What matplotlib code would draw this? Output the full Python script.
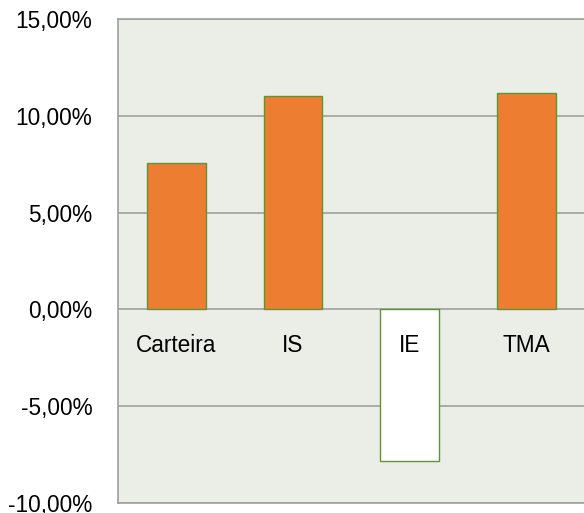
import matplotlib.pyplot as plt
from matplotlib.transforms import offset_copy
from matplotlib.ticker import FuncFormatter

categories = ["Carteira", "IS", "IE", "TMA"]
returns = [7.57, 11.03, -7.86, 11.2]  # in %
y_ticks = [-10, -5, 0, 5, 10, 15]

plt.rcParams['font.family'] = ['Liberation Sans', 'DejaVu Sans']

fig = plt.figure(figsize=(5.84, 5.13), dpi=100)
ax = fig.add_axes([118 / 584, 10.3 / 513, 466.8 / 584, 483.4 / 513])
ax.set_facecolor('#EAEEE6')

colors = ['#ED7D31' if v >= 0 else 'white' for v in returns]
ax.bar(range(len(categories)), returns, width=0.503, color=colors,
       edgecolor='#5E9438', linewidth=1.0, zorder=3)

ax.set_xlim(-0.5, len(categories) - 0.5)
ax.set_ylim(-10, 15)
ax.set_yticks(y_ticks)
ax.yaxis.set_major_formatter(FuncFormatter(lambda v, p: f"{v:.2f}%".replace('.', ',')))
ax.tick_params(axis='y', length=0, pad=18.5, labelsize=16.3, labelcolor='#000000')
ax.set_xticks([])
ax.grid(axis='y', color='#A0A0A0', linewidth=1.2, zorder=1)

for s in ['left', 'top', 'bottom']:
    ax.spines[s].set_color('#A0A0A0')
    ax.spines[s].set_linewidth(1.2)
ax.spines['right'].set_visible(False)

# category labels sit under the zero line
trans = offset_copy(ax.transData, fig=fig, x=0, y=-43, units='dots')
for i, name in enumerate(categories):
    ax.text(i, 0, name, transform=trans, ha='center', va='baseline',
            fontsize=16.3, color='#000000', zorder=4)

fig.savefig('out.png', dpi=100)
